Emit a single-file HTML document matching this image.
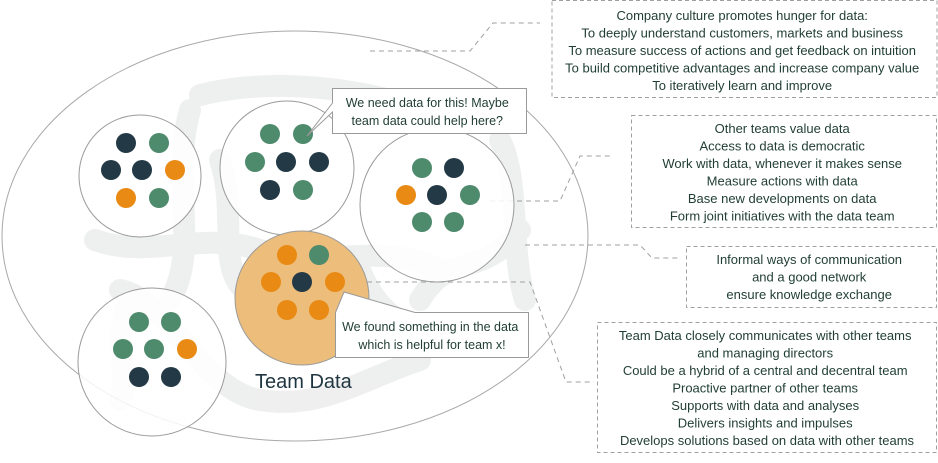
<!DOCTYPE html>
<html><head><meta charset="utf-8"><style>
html,body{margin:0;padding:0;background:#fff;}
svg text{font-family:"Liberation Sans",sans-serif;fill:#1f3d33;}
</style></head><body>
<svg width="938" height="458" viewBox="0 0 938 458" xmlns="http://www.w3.org/2000/svg">
<!-- gray tangle background -->
<g fill="none" stroke="#e4e5e6" stroke-width="22" stroke-linecap="round" opacity="0.6">
<path d="M200,95 C260,80 330,85 390,100 C420,110 450,100 470,120"/>
<path d="M95,240 C150,260 200,230 260,250 C330,270 380,240 440,270"/>
<path d="M120,290 C170,300 200,390 260,400 C320,410 360,380 420,360"/>
<path d="M190,110 C170,180 200,250 170,300"/>
<path d="M220,160 C240,220 210,280 260,300"/>
<path d="M420,300 C450,250 480,280 520,230"/>
<path d="M500,140 C520,180 510,250 525,300"/>
<path d="M130,300 C110,340 130,380 120,400"/>
<path d="M360,270 C380,320 420,340 460,330"/>
</g>
<ellipse cx="295" cy="236" rx="293" ry="205" fill="none" stroke="#a8a8a8" stroke-width="1"/>
<!-- dashed connectors -->
<g fill="none" stroke="#a0a0a0" stroke-width="1" stroke-dasharray="5,4">
<polyline points="370,51 470,51 493,23 540,23"/>
<polyline points="490,201 560,201 580,156 610,156"/>
<polyline points="525,245 640,245 652,258 680,258"/>
<polyline points="358,282 530,282 566,382 594,382"/>
</g>
<g fill="#fff" stroke="#a0a0a0" stroke-width="1" stroke-dasharray="4,3">
<rect x="552" y="0.5" width="385" height="97"/>
<rect x="631.5" y="115.5" width="305" height="112"/>
<rect x="686.5" y="246.5" width="250" height="61"/>
<rect x="597.5" y="322.5" width="339" height="130"/>
</g>
<!-- circles -->
<g stroke="#9a9a9a" stroke-width="1">
<circle cx="140" cy="176" r="61" fill="#fff" fill-opacity="0.85"/>
<circle cx="287" cy="168" r="67" fill="#fff" fill-opacity="0.85"/>
<circle cx="437" cy="205" r="77" fill="#fff" fill-opacity="0.85"/>
<circle cx="152" cy="362" r="74" fill="#fff" fill-opacity="0.85"/>
<circle cx="302" cy="298" r="67" fill="#edbd7b"/>
</g>
<g>
<circle cx="126" cy="143" r="10" fill="#233a46"/><circle cx="159" cy="143" r="10" fill="#4e8a6c"/>
<circle cx="111" cy="170" r="10" fill="#233a46"/><circle cx="142" cy="170" r="10" fill="#233a46"/><circle cx="175" cy="170" r="10" fill="#e88a14"/>
<circle cx="126" cy="198" r="10" fill="#e88a14"/><circle cx="159" cy="198" r="10" fill="#4e8a6c"/>
<circle cx="270" cy="134" r="10" fill="#4e8a6c"/><circle cx="303" cy="134" r="10" fill="#4e8a6c"/>
<circle cx="255" cy="162" r="10" fill="#4e8a6c"/><circle cx="286" cy="162" r="10" fill="#233a46"/><circle cx="319" cy="162" r="10" fill="#233a46"/>
<circle cx="270" cy="190" r="10" fill="#233a46"/><circle cx="303" cy="190" r="10" fill="#4e8a6c"/>
<circle cx="422" cy="168" r="10" fill="#4e8a6c"/><circle cx="454" cy="168" r="10" fill="#233a46"/>
<circle cx="406" cy="195" r="10" fill="#e88a14"/><circle cx="437" cy="195" r="10" fill="#233a46"/><circle cx="470" cy="195" r="10" fill="#4e8a6c"/>
<circle cx="422" cy="222" r="10" fill="#4e8a6c"/><circle cx="454" cy="222" r="10" fill="#4e8a6c"/>
<circle cx="287" cy="255" r="10" fill="#e88a14"/><circle cx="319" cy="255" r="10" fill="#4e8a6c"/>
<circle cx="271" cy="282" r="10" fill="#e88a14"/><circle cx="302" cy="282" r="10" fill="#233a46"/><circle cx="335" cy="282" r="10" fill="#e88a14"/>
<circle cx="287" cy="310" r="10" fill="#e88a14"/><circle cx="319" cy="310" r="10" fill="#e88a14"/>
<circle cx="139" cy="322" r="10" fill="#4e8a6c"/><circle cx="171" cy="322" r="10" fill="#4e8a6c"/>
<circle cx="123" cy="349" r="10" fill="#4e8a6c"/><circle cx="154" cy="349" r="10" fill="#4e8a6c"/><circle cx="187" cy="349" r="10" fill="#e88a14"/>
<circle cx="139" cy="377" r="10" fill="#233a46"/><circle cx="171" cy="377" r="10" fill="#233a46"/>
</g>
<!-- callouts -->
<g fill="#fff" stroke="#9a9a9a" stroke-width="1">
<path d="M332.5,88.5 H526.5 V133.5 H332.5 V112 L307,136 L332.5,103 Z"/>
<path d="M335.5,312.5 L344,292 L415,312.5 H528.5 V357.5 H335.5 Z"/>
</g>
<text font-size="12.5" text-anchor="middle">
<tspan x="429" y="107">We need data for this! Maybe</tspan>
<tspan x="429" y="125">team data could help here?</tspan>
<tspan x="432" y="331">We found something in the data</tspan>
<tspan x="432" y="349">which is helpful for team x!</tspan>
</text>
<text x="255" y="388" font-size="20" style="fill:#1f3540">Team Data</text>
<text font-size="13" text-anchor="middle">
<tspan x="744" y="20">Company culture promotes hunger for data:</tspan>
<tspan x="744" y="37.5">To deeply understand customers, markets and business</tspan>
<tspan x="744" y="55">To measure success of actions and get feedback on intuition</tspan>
<tspan x="744" y="72.5">To build competitive advantages and increase company value</tspan>
<tspan x="744" y="90">To iteratively learn and improve</tspan>
<tspan x="784" y="133">Other teams value data</tspan>
<tspan x="784" y="150.5">Access to data is democratic</tspan>
<tspan x="784" y="168">Work with data, whenever it makes sense</tspan>
<tspan x="784" y="185.5">Measure actions with data</tspan>
<tspan x="784" y="203">Base new developments on data</tspan>
<tspan x="784" y="220.5">Form joint initiatives with the data team</tspan>
<tspan x="811" y="264">Informal ways of communication</tspan>
<tspan x="811" y="281.5">and a good network</tspan>
<tspan x="811" y="299">ensure knowledge exchange</tspan>
<tspan x="767" y="340">Team Data closely communicates with other teams</tspan>
<tspan x="767" y="357.5">and managing directors</tspan>
<tspan x="767" y="375">Could be a hybrid of a central and decentral team</tspan>
<tspan x="767" y="392.5">Proactive partner of other teams</tspan>
<tspan x="767" y="410">Supports with data and analyses</tspan>
<tspan x="767" y="427.5">Delivers insights and impulses</tspan>
<tspan x="767" y="445">Develops solutions based on data with other teams</tspan>
</text>
</svg>
</body></html>
